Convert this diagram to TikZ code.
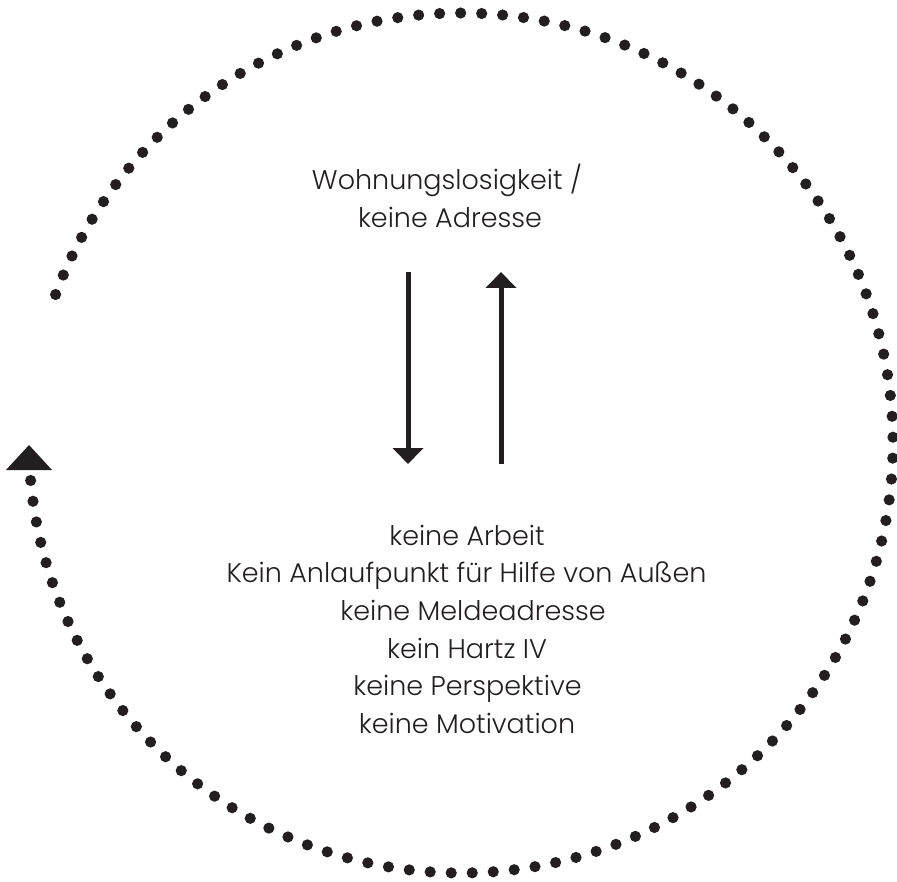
\documentclass[tikz,border=0pt]{standalone}
\usepackage{fontspec}
\setmainfont{Poppins Light}
\usetikzlibrary{arrows.meta}
\definecolor{ink}{HTML}{231F20}
\begin{document}
\begin{tikzpicture}[x=1pt,y=-1pt,
  dotmark/.style={fill=ink, draw=none},
  txt/.style={font=\fontsize{27}{37.6}\selectfont, text=ink, anchor=base, inner sep=0pt},
  vline/.style={draw=ink, line width=5pt, -{Triangle[width=30pt,length=16pt]}}]
\useasboundingbox (0,0) rectangle (897,882);
% dotted cycle
\foreach \i in {0,...,120}{
  \pgfmathsetmacro\ang{159.8-\i*2.79}
  \fill[dotmark] ({461+432*cos(\ang)},{443-430*sin(\ang)}) circle (5.6pt);
}
\fill[ink] (29,445) -- (52,470) -- (6,470) -- cycle;
% texts
\node[txt] (t1) at (447,190) {Wohnungslosigkeit /};
\node[txt] (t2) at (450,228) {keine Adresse};
\node[txt] (b1) at (467,545) {keine Arbeit};
\node[txt] (b2) at (466.5,582) {Kein Anlaufpunkt für Hilfe von Außen};
\node[txt] (b3) at (473,620) {keine Meldeadresse};
\node[txt] (b4) at (467,658) {kein Hartz IV};
\node[txt] (b5) at (467.5,695) {keine Perspektive};
\node[txt] (b6) at (467,733) {keine Motivation};
% vertical arrows
\coordinate (d1) at (408,272);
\coordinate (d2) at (408,464);
\coordinate (u1) at (501,464);
\coordinate (u2) at (501,272);
\draw[vline] (d1) -- (d2);
\draw[vline] (u1) -- (u2);
\end{tikzpicture}
\end{document}
